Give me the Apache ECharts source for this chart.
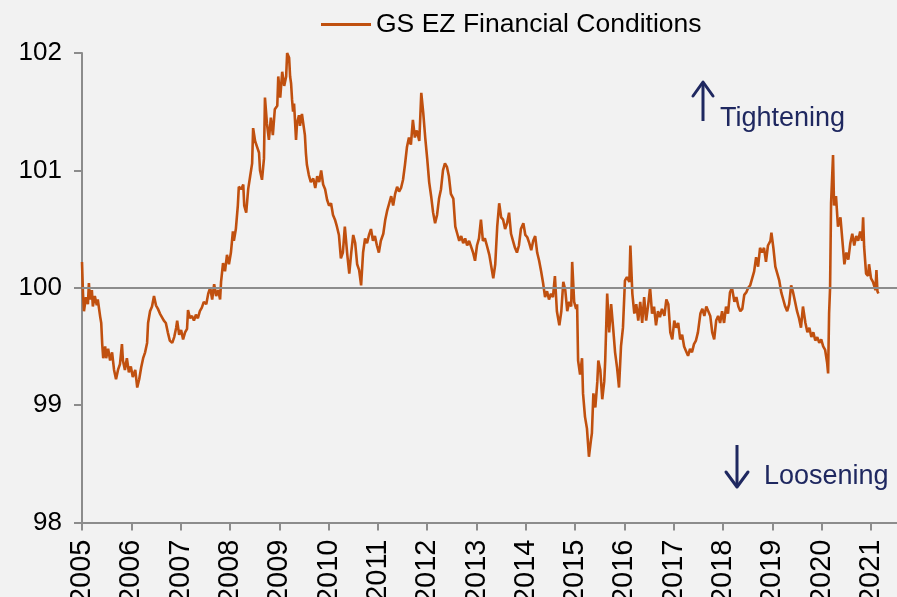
<!DOCTYPE html>
<html>
<head>
<meta charset="utf-8">
<script src="https://cdn.jsdelivr.net/npm/echarts@6/dist/echarts.min.js"></script>
<style>
html, body { margin: 0; padding: 0; background: #F2F2F2; }
#chart { width: 897px; height: 597px; }
</style>
</head>
<body>
<div id="chart"></div>
<script>
// GS EZ Financial Conditions, [decimal year, index level]
var fci2005 = [[2005.00,100.22],[2005.02,99.95],[2005.04,99.80],[2005.08,99.92],[2005.12,99.86],[2005.14,100.04],[2005.16,99.90],[2005.20,99.98],[2005.22,99.84],[2005.26,99.93],[2005.30,99.85],[2005.32,99.90],[2005.37,99.75],[2005.39,99.70],[2005.41,99.52],[2005.43,99.40],[2005.47,99.50],[2005.49,99.40],[2005.53,99.48],[2005.57,99.38],[2005.61,99.45],[2005.65,99.30],[2005.69,99.22],[2005.73,99.30],[2005.77,99.35],[2005.81,99.52],[2005.83,99.38],[2005.87,99.30],[2005.91,99.40],[2005.95,99.28],[2005.99,99.33]];
var fci2006 = [[2006.03,99.24],[2006.08,99.30],[2006.12,99.15],[2006.16,99.22],[2006.20,99.32],[2006.24,99.40],[2006.28,99.45],[2006.32,99.53],[2006.34,99.70],[2006.38,99.80],[2006.42,99.84],[2006.46,99.93],[2006.50,99.85],[2006.54,99.82],[2006.58,99.78],[2006.62,99.75],[2006.66,99.72],[2006.70,99.70],[2006.74,99.62],[2006.78,99.55],[2006.83,99.53],[2006.87,99.58],[2006.91,99.66],[2006.93,99.72],[2006.97,99.60]];
var fci2007 = [[2007.01,99.64],[2007.05,99.56],[2007.09,99.62],[2007.13,99.65],[2007.15,99.81],[2007.19,99.74],[2007.23,99.76],[2007.27,99.72],[2007.31,99.77],[2007.35,99.74],[2007.39,99.80],[2007.43,99.83],[2007.47,99.88],[2007.52,99.86],[2007.56,99.95],[2007.60,100.00],[2007.64,99.90],[2007.68,100.03],[2007.72,99.93],[2007.76,99.98],[2007.80,99.90],[2007.82,100.05],[2007.86,100.21],[2007.90,100.14],[2007.94,100.28],[2007.98,100.20]];
var fci2008 = [[2008.02,100.30],[2008.06,100.48],[2008.08,100.40],[2008.12,100.50],[2008.16,100.70],[2008.18,100.86],[2008.23,100.84],[2008.27,100.88],[2008.29,100.70],[2008.33,100.64],[2008.37,100.84],[2008.41,100.95],[2008.45,101.06],[2008.47,101.36],[2008.51,101.25],[2008.55,101.20],[2008.59,101.15],[2008.61,101.00],[2008.65,100.92],[2008.69,101.10],[2008.71,101.62],[2008.75,101.40],[2008.79,101.26],[2008.83,101.45],[2008.87,101.30],[2008.91,101.52],[2008.96,101.55],[2008.98,101.80]];
var fci2009 = [[2009.02,101.62],[2009.06,101.84],[2009.10,101.72],[2009.14,101.80],[2009.16,102.00],[2009.20,101.96],[2009.22,101.80],[2009.24,101.74],[2009.26,101.60],[2009.28,101.50],[2009.30,101.57],[2009.32,101.42],[2009.34,101.26],[2009.36,101.40],[2009.40,101.47],[2009.42,101.38],[2009.46,101.48],[2009.50,101.36],[2009.52,101.30],[2009.54,101.15],[2009.56,101.05],[2009.60,100.96],[2009.64,100.90],[2009.69,100.93],[2009.73,100.85],[2009.77,100.95],[2009.81,100.90],[2009.85,101.00],[2009.89,100.88],[2009.93,100.84],[2009.97,100.75]];
var fci2010 = [[2010.01,100.70],[2010.05,100.72],[2010.09,100.62],[2010.13,100.58],[2010.17,100.52],[2010.21,100.45],[2010.25,100.25],[2010.29,100.30],[2010.33,100.52],[2010.38,100.28],[2010.42,100.12],[2010.46,100.30],[2010.50,100.45],[2010.54,100.38],[2010.58,100.20],[2010.62,100.15],[2010.66,100.02],[2010.70,100.30],[2010.74,100.42],[2010.78,100.38],[2010.82,100.45],[2010.86,100.50],[2010.90,100.40],[2010.94,100.44],[2010.98,100.36]];
var fci2011 = [[2011.02,100.30],[2011.06,100.40],[2011.11,100.46],[2011.15,100.58],[2011.19,100.66],[2011.23,100.72],[2011.27,100.78],[2011.31,100.70],[2011.35,100.80],[2011.39,100.86],[2011.43,100.82],[2011.47,100.85],[2011.51,100.92],[2011.55,101.05],[2011.59,101.20],[2011.63,101.28],[2011.67,101.22],[2011.71,101.43],[2011.75,101.28],[2011.79,101.34],[2011.84,101.25],[2011.88,101.66],[2011.92,101.49],[2011.96,101.28]];
var fci2012 = [[2012.00,101.10],[2012.04,100.90],[2012.08,100.78],[2012.12,100.64],[2012.16,100.55],[2012.20,100.62],[2012.24,100.76],[2012.28,100.84],[2012.32,101.00],[2012.36,101.06],[2012.40,101.03],[2012.44,100.95],[2012.48,100.80],[2012.53,100.76],[2012.57,100.52],[2012.61,100.46],[2012.65,100.40],[2012.69,100.44],[2012.73,100.38],[2012.77,100.42],[2012.81,100.36],[2012.85,100.40],[2012.89,100.35],[2012.93,100.30],[2012.97,100.23]];
var fci2013 = [[2013.01,100.36],[2013.05,100.42],[2013.09,100.58],[2013.13,100.40],[2013.17,100.42],[2013.21,100.36],[2013.26,100.28],[2013.30,100.18],[2013.34,100.08],[2013.38,100.20],[2013.42,100.52],[2013.46,100.72],[2013.50,100.60],[2013.54,100.58],[2013.58,100.50],[2013.62,100.55],[2013.66,100.64],[2013.70,100.46],[2013.74,100.40],[2013.78,100.34],[2013.82,100.30],[2013.86,100.36],[2013.90,100.50],[2013.95,100.55],[2013.99,100.45]];
var fci2014 = [[2014.03,100.43],[2014.07,100.38],[2014.11,100.32],[2014.15,100.40],[2014.19,100.44],[2014.23,100.30],[2014.27,100.23],[2014.31,100.14],[2014.35,100.04],[2014.39,99.92],[2014.43,99.97],[2014.47,99.90],[2014.51,99.95],[2014.55,99.92],[2014.59,100.10],[2014.63,99.80],[2014.68,99.68],[2014.72,99.80],[2014.76,100.05],[2014.80,99.98],[2014.84,99.80],[2014.88,99.88],[2014.92,99.84],[2014.94,100.22],[2014.98,99.88]];
var fci2015 = [[2015.02,99.82],[2015.04,99.86],[2015.06,99.38],[2015.10,99.26],[2015.14,99.40],[2015.16,99.10],[2015.20,98.90],[2015.24,98.80],[2015.28,98.56],[2015.32,98.70],[2015.34,98.76],[2015.37,99.10],[2015.41,98.98],[2015.45,99.20],[2015.47,99.38],[2015.51,99.30],[2015.55,99.05],[2015.59,99.20],[2015.61,99.38],[2015.65,99.95],[2015.69,99.62],[2015.73,99.86],[2015.77,99.66],[2015.81,99.45],[2015.85,99.32],[2015.89,99.15],[2015.93,99.50],[2015.97,99.66]];
var fci2016 = [[2016.01,100.06],[2016.05,100.09],[2016.10,100.05],[2016.12,100.36],[2016.16,99.95],[2016.20,99.78],[2016.24,99.86],[2016.28,99.72],[2016.32,99.88],[2016.36,99.70],[2016.40,99.92],[2016.44,99.72],[2016.48,99.85],[2016.52,100.00],[2016.56,99.78],[2016.60,99.84],[2016.64,99.68],[2016.68,99.80],[2016.72,99.75],[2016.76,99.82],[2016.81,99.76],[2016.85,99.90],[2016.89,99.86],[2016.93,99.62],[2016.97,99.56]];
var fci2017 = [[2017.01,99.72],[2017.05,99.66],[2017.09,99.70],[2017.13,99.56],[2017.17,99.60],[2017.21,99.50],[2017.25,99.46],[2017.29,99.42],[2017.33,99.48],[2017.37,99.45],[2017.41,99.52],[2017.45,99.55],[2017.49,99.62],[2017.54,99.78],[2017.58,99.82],[2017.62,99.76],[2017.66,99.84],[2017.70,99.80],[2017.74,99.76],[2017.78,99.62],[2017.82,99.56],[2017.86,99.72],[2017.90,99.76],[2017.94,99.70],[2017.98,99.80]];
var fci2018 = [[2018.02,99.70],[2018.06,99.84],[2018.10,99.78],[2018.14,99.96],[2018.18,100.00],[2018.23,99.88],[2018.27,99.92],[2018.31,99.84],[2018.35,99.80],[2018.39,99.82],[2018.43,99.94],[2018.47,99.96],[2018.51,100.00],[2018.55,100.02],[2018.59,100.08],[2018.63,100.14],[2018.67,100.26],[2018.71,100.18],[2018.75,100.34],[2018.79,100.30],[2018.83,100.34],[2018.87,100.22],[2018.91,100.36],[2018.96,100.40],[2018.98,100.47]];
var fci2019 = [[2019.02,100.34],[2019.06,100.18],[2019.10,100.12],[2019.14,100.06],[2019.18,99.96],[2019.22,99.90],[2019.26,99.84],[2019.30,99.80],[2019.34,99.86],[2019.38,100.02],[2019.42,99.96],[2019.46,99.88],[2019.50,99.80],[2019.54,99.74],[2019.58,99.66],[2019.62,99.84],[2019.67,99.70],[2019.71,99.62],[2019.75,99.66],[2019.79,99.58],[2019.83,99.62],[2019.87,99.55],[2019.91,99.58],[2019.95,99.53],[2019.99,99.56]];
var fci2020 = [[2020.03,99.50],[2020.07,99.47],[2020.11,99.36],[2020.13,99.27],[2020.15,99.78],[2020.17,100.00],[2020.19,100.72],[2020.23,101.13],[2020.25,100.70],[2020.29,100.78],[2020.33,100.52],[2020.38,100.60],[2020.42,100.40],[2020.46,100.20],[2020.50,100.30],[2020.54,100.24],[2020.58,100.38],[2020.62,100.46],[2020.66,100.36],[2020.70,100.44],[2020.74,100.40],[2020.78,100.48],[2020.82,100.40],[2020.84,100.60],[2020.86,100.35],[2020.90,100.12],[2020.94,100.10],[2020.96,100.20]];
var fci2021 = [[2021.00,100.08],[2021.04,100.05],[2021.09,99.98],[2021.11,100.15],[2021.13,99.97],[2021.15,99.95]];

var seriesName = 'GS EZ Financial Conditions';
var yTicks = [98, 99, 100, 101, 102];
var baseLevel = 100;

var fciData = [].concat(fci2005, fci2006, fci2007, fci2008, fci2009, fci2010, fci2011,
    fci2012, fci2013, fci2014, fci2015, fci2016, fci2017, fci2018, fci2019, fci2020, fci2021);

var axisGrey = '#8C8C8C';
var lineColor = '#C0500F';
var navy = '#1F2860';
var font = 'Liberation Sans, Arial, sans-serif';

var myChart = echarts.init(document.getElementById('chart'));
var option =
{
    backgroundColor : '#F2F2F2',
    animation : false,
    legend :
    {
        left : 316,
        top : 6,
        itemWidth : 50,
        itemHeight : 3,
        itemGap : 10,
        icon : 'rect',
        textStyle : { fontFamily : font, fontSize : 26.5, color : '#000' },
        data : [seriesName]
    },
    // plot runs past the right edge, like the reference; labels may leave the canvas
    grid : { left : 82, width : 826, top : 53, bottom : 74.5, outerBoundsMode : 'none', containLabel : false },
    xAxis :
    {
        type : 'value',
        min : 2005,
        max : 2021.75,
        interval : 1,
        axisLine : { onZero : false, lineStyle : { color : axisGrey, width : 2 } },
        axisTick : { length : 8, lineStyle : { color : axisGrey, width : 2 } },
        splitLine : { show : false },
        axisLabel :
        {
            rotate : 90,
            margin : 17,
            color : '#000',
            fontFamily : font,
            fontSize : 29,
            formatter : function (v)
            {
                return Math.abs(v - Math.round(v)) < 1e-6 ? String(Math.round(v)) : '';
            }
        }
    },
    yAxis :
    {
        type : 'value',
        min : yTicks[0],
        max : yTicks[yTicks.length - 1],
        interval : 1,
        axisLine : { show : true, lineStyle : { color : axisGrey, width : 2 } },
        axisTick : { show : true, length : 8, lineStyle : { color : axisGrey, width : 2 } },
        splitLine : { show : false },
        axisLabel : { margin : 20, color : '#000', fontFamily : font, fontSize : 26 }
    },
    series : [
        {
            name : seriesName,
            type : 'line',
            data : fciData,
            showSymbol : false,
            symbol : 'none',
            color : lineColor,
            lineStyle : { color : lineColor, width : 2.6 },
            z : 3,
            markLine :
            {
                silent : true,
                symbol : 'none',
                label : { show : false },
                lineStyle : { color : axisGrey, width : 2, type : 'solid' },
                data : [{ yAxis : baseLevel }]
            }
        }
    ],
    graphic : [
        // up arrow + label
        { type : 'polyline', shape : { points : [[703, 121], [703, 83]] }, style : { stroke : navy, lineWidth : 3, fill : null } },
        { type : 'polyline', shape : { points : [[693, 96], [703, 82], [713, 96]] }, style : { stroke : navy, lineWidth : 3, fill : null, lineJoin : 'round', lineCap : 'round' } },
        { type : 'text', left : 720, top : 105, style : { text : 'Tightening', fill : navy, font : '27px ' + font } },
        // down arrow + label
        { type : 'polyline', shape : { points : [[737, 445], [737, 486]] }, style : { stroke : navy, lineWidth : 3, fill : null } },
        { type : 'polyline', shape : { points : [[726, 472], [737, 487], [748, 472]] }, style : { stroke : navy, lineWidth : 3, fill : null, lineJoin : 'round', lineCap : 'round' } },
        { type : 'text', left : 764, top : 463, style : { text : 'Loosening', fill : navy, font : '27px ' + font } }
    ]
};

myChart.setOption(option);
</script>
</body>
</html>
